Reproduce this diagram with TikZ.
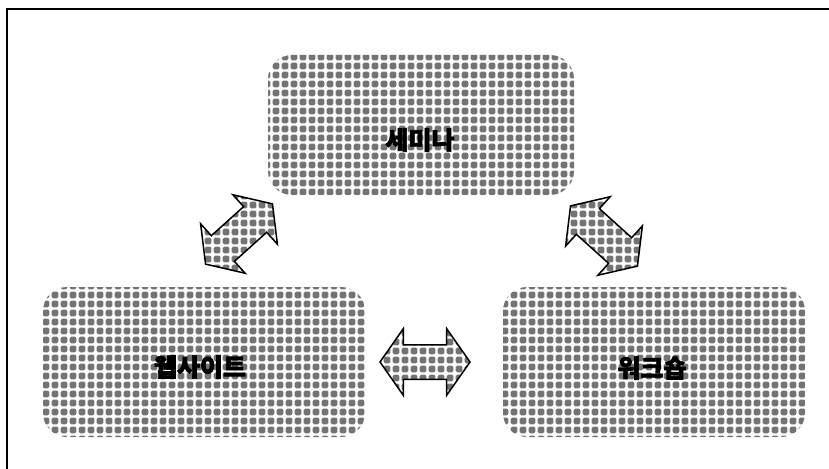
\documentclass[tikz,border=0pt]{standalone}
\usepackage{fontspec}
\newfontfamily\kr[FakeBold=2.5]{Noto Sans CJK KR}
\usetikzlibrary{shapes.arrows,patterns.meta}
\definecolor{blobgray}{HTML}{737373}
\tikzdeclarepattern{
  name=blobs, type=colored,
  bottom left={(0pt,0pt)}, top right={(8.5pt,8.5pt)},
  tile size={(8.5pt,8.5pt)},
  code={\fill[blobgray, rounded corners=1.6pt] (0.7pt,0.7pt) rectangle (7.8pt,7.8pt);}
}
\tikzset{
  box/.style={rectangle, rounded corners=24pt, pattern=blobs, inner sep=0pt},
  lbl/.style={font=\kr\bfseries\fontsize{25pt}{25pt}\selectfont, text=black, inner sep=0pt},
  blockarrow/.style={double arrow, draw=black, line width=1.5pt, pattern=blobs,
    minimum height=90pt, double arrow head extend=16pt,
    double arrow tip angle=110, inner xsep=0pt, inner ysep=16.5pt},
  frame/.style={line width=2pt, draw=black}
}
\begin{document}
\begin{tikzpicture}[x=1pt,y=-1pt]
\useasboundingbox (0,0) rectangle (829,468);
\coordinate (ftr) at (840,9);
\coordinate (ftl) at (7,9);
\coordinate (fbl) at (7,480);
\draw[frame] (ftr) -- (ftl) -- (fbl);
\node[box, minimum width=306pt, minimum height=140pt] (sem) at (421,125) {};
\node[box, minimum width=322pt, minimum height=150pt] (web) at (204,362) {};
\node[box, minimum width=302pt, minimum height=150pt] (work) at (654,362) {};
\node[lbl] (semt) at (420,140) {세미나};
\node[lbl] (webt) at (200,367) {웹사이트};
\node[lbl] (workt) at (652,368) {워크숍};
\node[blockarrow, rotate=42] (a1) at (239,234) {};
\node[blockarrow, rotate=-42] (a2) at (604,236) {};
\node[blockarrow] (a3) at (425,362) {};
\end{tikzpicture}
\end{document}
